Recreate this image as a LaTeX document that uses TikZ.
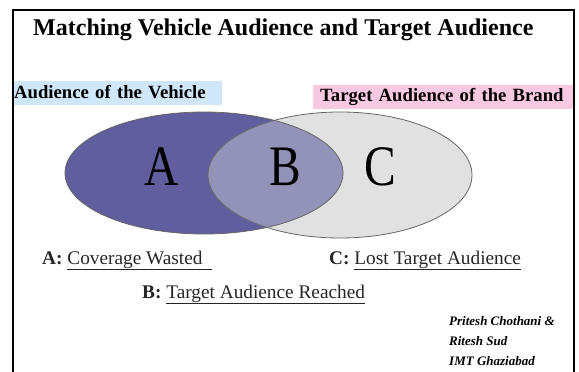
\documentclass[tikz,border=0pt]{standalone}
\usepackage{fontspec}
\setmainfont{Liberation Serif}
\usepackage{tikz}
\usetikzlibrary{positioning}

\definecolor{vehicle}{HTML}{605E9E}
\definecolor{overlap}{HTML}{9392B8}
\definecolor{brand}{HTML}{E1E1E1}
\definecolor{skyfill}{HTML}{CFE7F8}
\definecolor{pinkfill}{HTML}{F9C9E2}

% tall, narrow region letters
\newcommand{\regionletter}[1]{\scalebox{0.88}[1.06]{#1}}

\begin{document}
\begin{tikzpicture}[
  x=1pt, y=-1pt,
  tag/.style={anchor=west, align=left, inner ysep=0pt, minimum height=24pt, font=\bfseries\fontsize{18.7}{19}\selectfont},
  note/.style={anchor=base west, inner sep=0pt, text=black!85, font=\fontsize{19.3}{19}\selectfont},
  region/.style={font=\fontsize{54}{54}\selectfont},
  credit/.style={anchor=base west, inner sep=0pt, font=\bfseries\itshape\fontsize{13}{13}\selectfont},
  rim/.style={draw=black!60, line width=0.8pt}
]
  \useasboundingbox (0,0) rectangle (579,372);

  \node[anchor=base west, inner sep=0pt, font=\bfseries\fontsize{24}{24}\selectfont] (title) at (33,35)
    {Matching Vehicle Audience and Target Audience};

  \node[tag, fill=skyfill, inner xsep=1pt, text width=207pt] (vehicle) at (13,92.5) {Audience of the Vehicle};
  \node[tag, fill=pinkfill, inner xsep=7pt, text width=248pt] (brand) at (313,97) {Target Audience of the Brand};

  % the two audiences and their overlap
  \fill[vehicle] (204,173) ellipse [x radius=139pt, y radius=61pt];
  \fill[brand] (340,175) ellipse [x radius=132pt, y radius=63pt];
  \begin{scope}
    \clip (204,173) ellipse [x radius=139pt, y radius=61pt];
    \fill[overlap] (340,175) ellipse [x radius=132pt, y radius=63pt];
  \end{scope}
  \draw[rim] (204,173) ellipse [x radius=139pt, y radius=61pt];
  \draw[rim] (340,175) ellipse [x radius=132pt, y radius=63pt];

  \node[region] (a) at (162,167) {\regionletter{A}};
  \node[region] (b) at (285,167) {\regionletter{B}};
  \node[region] (c) at (380,167) {\regionletter{C}};

  \node[note] (wasted) at (42,264) {\textbf{A:} \underline{Coverage Wasted\ \ }};
  \node[note] (lost) at (329,264) {\textbf{C:} \underline{Lost Target Audience}};
  \node[note] (reached) at (142,298) {\textbf{B:} \underline{Target Audience Reached}};

  \node[credit] (auth1) at (449,325) {Pritesh Chothani \&};
  \node[credit] (auth2) at (449,345) {Ritesh Sud};
  \node[credit] (inst) at (449,365) {IMT Ghaziabad};

  % frame, open at the bottom
  \draw[line width=1.4pt] (574,372) -- (574,10) -- (13,10);
  \draw[line width=2.4pt] (13,9.3) -- (13,372);
\end{tikzpicture}
\end{document}
